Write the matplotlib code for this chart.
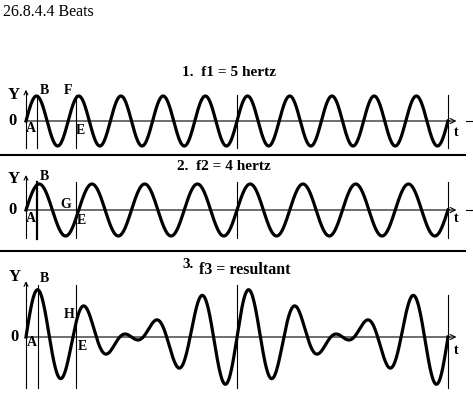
import numpy as np
import matplotlib
matplotlib.use("Agg")
import matplotlib.pyplot as plt

# chart data
FREQS = [5, 4]          # hertz, f1 and f2
DURATION = 2.0          # seconds shown on the t axis
TITLES = ["1.  f1 = 5 hertz", "2.  f2 = 4 hertz", "f3 = resultant"]
# times (s) of the thin vertical marker lines in each panel
MARKS = [[0.052, 0.235, 1.0, 2.0],
         [0.052, 0.235, 1.0, 2.0],
         [0.057, 0.237, 1.0, 2.0]]

W, H = 473, 416
T0_PX, PX_PER_S = 26, 211
SERIF = ["Liberation Serif", "DejaVu Serif"]

fig = plt.figure(figsize=(W / 100, H / 100), dpi=100)
bg = fig.add_axes([0, 0, 1, 1])
bg.set_xlim(0, W)
bg.set_ylim(H, 0)
bg.axis("off")


def panel_axes(y0, amp, half):
    ax = fig.add_axes([0, (H - (y0 + half)) / H, 1, 2 * half / H])
    ax.set_xlim(-T0_PX / PX_PER_S, (W - T0_PX) / PX_PER_S)
    ax.set_ylim(-half / amp, half / amp)
    ax.axis("off")
    ax.patch.set_alpha(0)
    return ax


t = np.linspace(0, DURATION, 3001)
y1 = np.sin(2 * np.pi * FREQS[0] * t)
y2 = np.sin(2 * np.pi * FREQS[1] * t)
waves = [y1, y2, y1 + y2]

# zero line pixel, px per unit, half height, mark line top/bottom, axis top
panels = [(121, 25, 60, 1.05, -1.08, 1.13),
          (210, 26, 60, 1.08, -1.08, 1.23),
          (337, 24, 80, 2.17, -2.12, 2.20)]

for i, (y0, amp, half, top, bot, axtop) in enumerate(panels):
    ax = panel_axes(y0, amp, half)
    ax.plot(t, waves[i], color="black", lw=2.3, solid_joinstyle="round")
    # y axis with arrow
    ax.plot([0, 0], [bot, axtop], color="black", lw=0.8)
    ax.annotate("", xy=(0, axtop + 0.12 * 25 / amp), xytext=(0, axtop),
                arrowprops=dict(arrowstyle="->", lw=0.8, color="black",
                                mutation_scale=7, shrinkA=0, shrinkB=0))
    # t axis with arrow
    ax.annotate("", xy=(2.04, 0), xytext=(0, 0),
                arrowprops=dict(arrowstyle="->", lw=0.8, color="black",
                                mutation_scale=9, shrinkA=0, shrinkB=0))
    for k, m in enumerate(MARKS[i]):
        lo, hi = bot, top
        lw = 0.8
        if i == 1 and k == 0:
            lw = 1.6
            lo = bot - 0.04
        if i == 2 and k == 3:
            hi = 1.75
        ax.plot([m, m], [lo, hi], color="black", lw=lw)

# separators and stray dashes
for ys in (155, 251):
    bg.plot([0, 465], [ys, ys], color="black", lw=1.5)
for ys in (121, 210):
    bg.plot([466, 472], [ys, ys], color="black", lw=0.8)

bg.text(3, 12, "26.8.4.4 Beats", fontsize=11.5, family=SERIF,
        va="center", ha="left")
bg.text(182, 73, TITLES[0], fontsize=11, family=SERIF, weight="bold",
        va="center", ha="left")
bg.text(177, 166, TITLES[1], fontsize=11, family=SERIF, weight="bold",
        va="center", ha="left")
bg.text(182, 265, "3.", fontsize=11, family=SERIF, weight="bold",
        va="center", ha="left")
bg.text(199, 270, TITLES[2], fontsize=11.5, family=SERIF, weight="bold",
        va="center", ha="left")

lab = dict(family=SERIF, weight="bold", va="center", ha="center")
big = dict(lab, fontsize=12)
small = dict(lab, fontsize=10)
# panel 1
bg.text(14, 95, "Y", **big)
bg.text(12, 121, "0", **big)
bg.text(31, 129, "A", **small)
bg.text(44, 90, "B", **small)
bg.text(68, 91, "F", **small)
bg.text(80, 130, "E", **small)
bg.text(456, 132, "t", **small)
# panel 2
bg.text(14, 179, "Y", **big)
bg.text(12, 210, "0", **big)
bg.text(31, 218, "A", **small)
bg.text(44, 177, "B", **small)
bg.text(66, 205, "G", **small)
bg.text(81, 220, "E", **small)
bg.text(456, 219, "t", **small)
# panel 3
bg.text(15, 277, "Y", **big)
bg.text(14, 337, "0", **big)
bg.text(32, 343, "A", **small)
bg.text(44, 279, "B", **small)
bg.text(69, 314, "H", **small)
bg.text(82, 347, "E", **small)
bg.text(456, 350, "t", **small)

fig.savefig("out.png", dpi=100)
